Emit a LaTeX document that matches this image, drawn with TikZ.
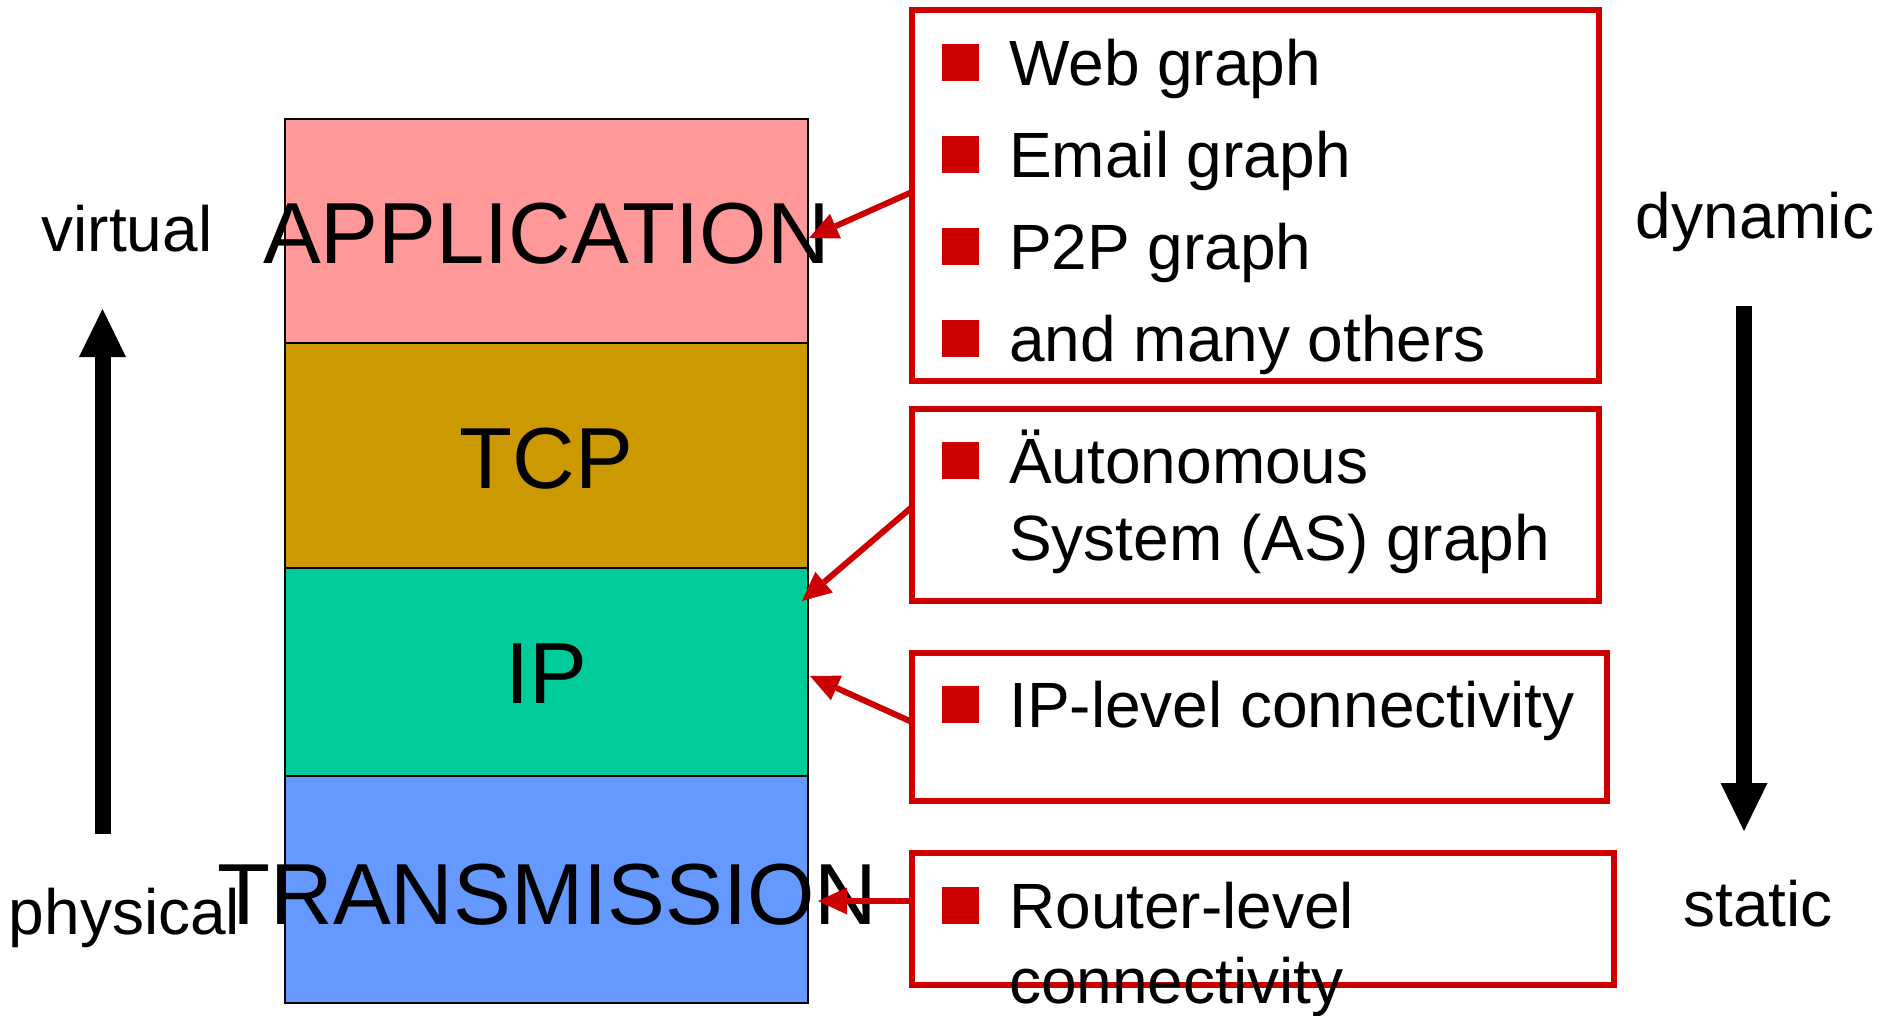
\documentclass[tikz,border=0pt]{standalone}
\usepackage{fontspec}
\setmainfont{Liberation Sans}
\usetikzlibrary{arrows.meta}
\definecolor{appc}{HTML}{FF9999}
\definecolor{tcpc}{HTML}{CC9900}
\definecolor{ipc}{HTML}{00CC99}
\definecolor{trc}{HTML}{6699FF}
\definecolor{redc}{HTML}{CC0000}
\tikzset{
  layer/.style={draw=black, line width=2pt, minimum width=523pt, inner sep=0pt, outer sep=0pt},
  biglabel/.style={anchor=base, inner sep=0pt, font=\fontsize{86.7}{100}\selectfont},
  redbox/.style={draw=redc, line width=6pt, inner sep=0pt, outer sep=0pt},
  bullet/.style={fill=redc, minimum size=37pt, inner sep=0pt},
  itemtext/.style={anchor=base west, inner sep=0pt, font=\fontsize{64}{77}\selectfont},
  sidelabel/.style={anchor=base, inner sep=0pt, font=\fontsize{64}{77}\selectfont},
  redarrow/.style={draw=redc, line width=6pt, -{Triangle[width=27pt,length=29pt,line width=0pt]}},
  bigarrow/.style={draw=black, line width=16pt, -{Triangle[width=47pt,length=48pt,line width=0pt]}}
}
\begin{document}
\begin{tikzpicture}[x=1pt,y=-1pt]
\useasboundingbox (0,0) rectangle (1895,1015);
% layers
\node[layer, fill=appc, minimum height=224.5pt] (app) at (546.5,230.75) {};
\node[layer, fill=tcpc, minimum height=225pt] (tcp) at (546.5,455.5) {};
\node[layer, fill=ipc, minimum height=208pt] (ip) at (546.5,672) {};
\node[layer, fill=trc, minimum height=227pt] (tr) at (546.5,889.5) {};
\node[biglabel] (tapp) at (546.5,263) {APPLICATION};
\node[biglabel] (ttcp) at (546.5,488) {TCP};
\node[biglabel] (tip) at (546.5,703) {IP};
\node[biglabel] (ttr) at (547.5,924) {TRANSMISSION};
% red boxes
\node[redbox, minimum width=687pt, minimum height=371pt] (b1) at (1255.5,195.5) {};
\node[redbox, minimum width=687pt, minimum height=192pt] (b2) at (1255.5,504.5) {};
\node[redbox, minimum width=695pt, minimum height=148pt] (b3) at (1259.5,727) {};
\node[redbox, minimum width=702pt, minimum height=132pt] (b4) at (1263,919) {};
% box 1 items
\node[bullet] (s1) at (960.5,62.5) {};
\node[itemtext] (t1) at (1009,85) {Web graph};
\node[bullet] (s2) at (960.5,154.5) {};
\node[itemtext] (t2) at (1009,177) {Email graph};
\node[bullet] (s3) at (960.5,246.5) {};
\node[itemtext] (t3) at (1009,269) {P2P graph};
\node[bullet] (s4) at (960.5,338.5) {};
\node[itemtext] (t4) at (1009,361) {and many others};
% box 2
\node[bullet] (s5) at (960.5,460.5) {};
\node[itemtext] (t5) at (1009,483) {Äutonomous};
\node[itemtext] (t6) at (1009,560) {System (AS) graph};
% box 3
\node[bullet] (s7) at (960.5,704) {};
\node[itemtext] (t7) at (1009,727) {IP-level connectivity};
% box 4
\node[bullet] (s8) at (960.5,905) {};
\node[itemtext] (t8) at (1009,928) {Router-level};
\node[itemtext] (t9) at (1009,1003) {connectivity};
% side labels
\node[sidelabel] (virt) at (127,251) {virtual};
\node[sidelabel] (phys) at (124.5,934) {physical};
\node[sidelabel] (dyn) at (1755,238) {dynamic};
\node[sidelabel] (stat) at (1758,926) {static};
% side arrows
\coordinate (upbot) at (102.5,834);
\coordinate (uptop) at (102.5,309);
\coordinate (dntop) at (1744,306);
\coordinate (dnbot) at (1744,831);
\draw[bigarrow] (upbot) -- (uptop);
\draw[bigarrow] (dntop) -- (dnbot);
% red connectors
\coordinate (tip1) at (809,238);
\coordinate (tip2) at (802,601);
\coordinate (tip3) at (810,676);
\coordinate (tip4) at (818,901);
\draw[redarrow] ([yshift=3.5pt]b1.west) -- (tip1);
\draw[redarrow] ([yshift=-2.5pt]b2.west) -- (tip2);
\draw[redarrow] ([yshift=5pt]b3.west) -- (tip3);
\draw[redarrow] ([yshift=18pt]b4.west) -- (tip4);
\end{tikzpicture}
\end{document}
